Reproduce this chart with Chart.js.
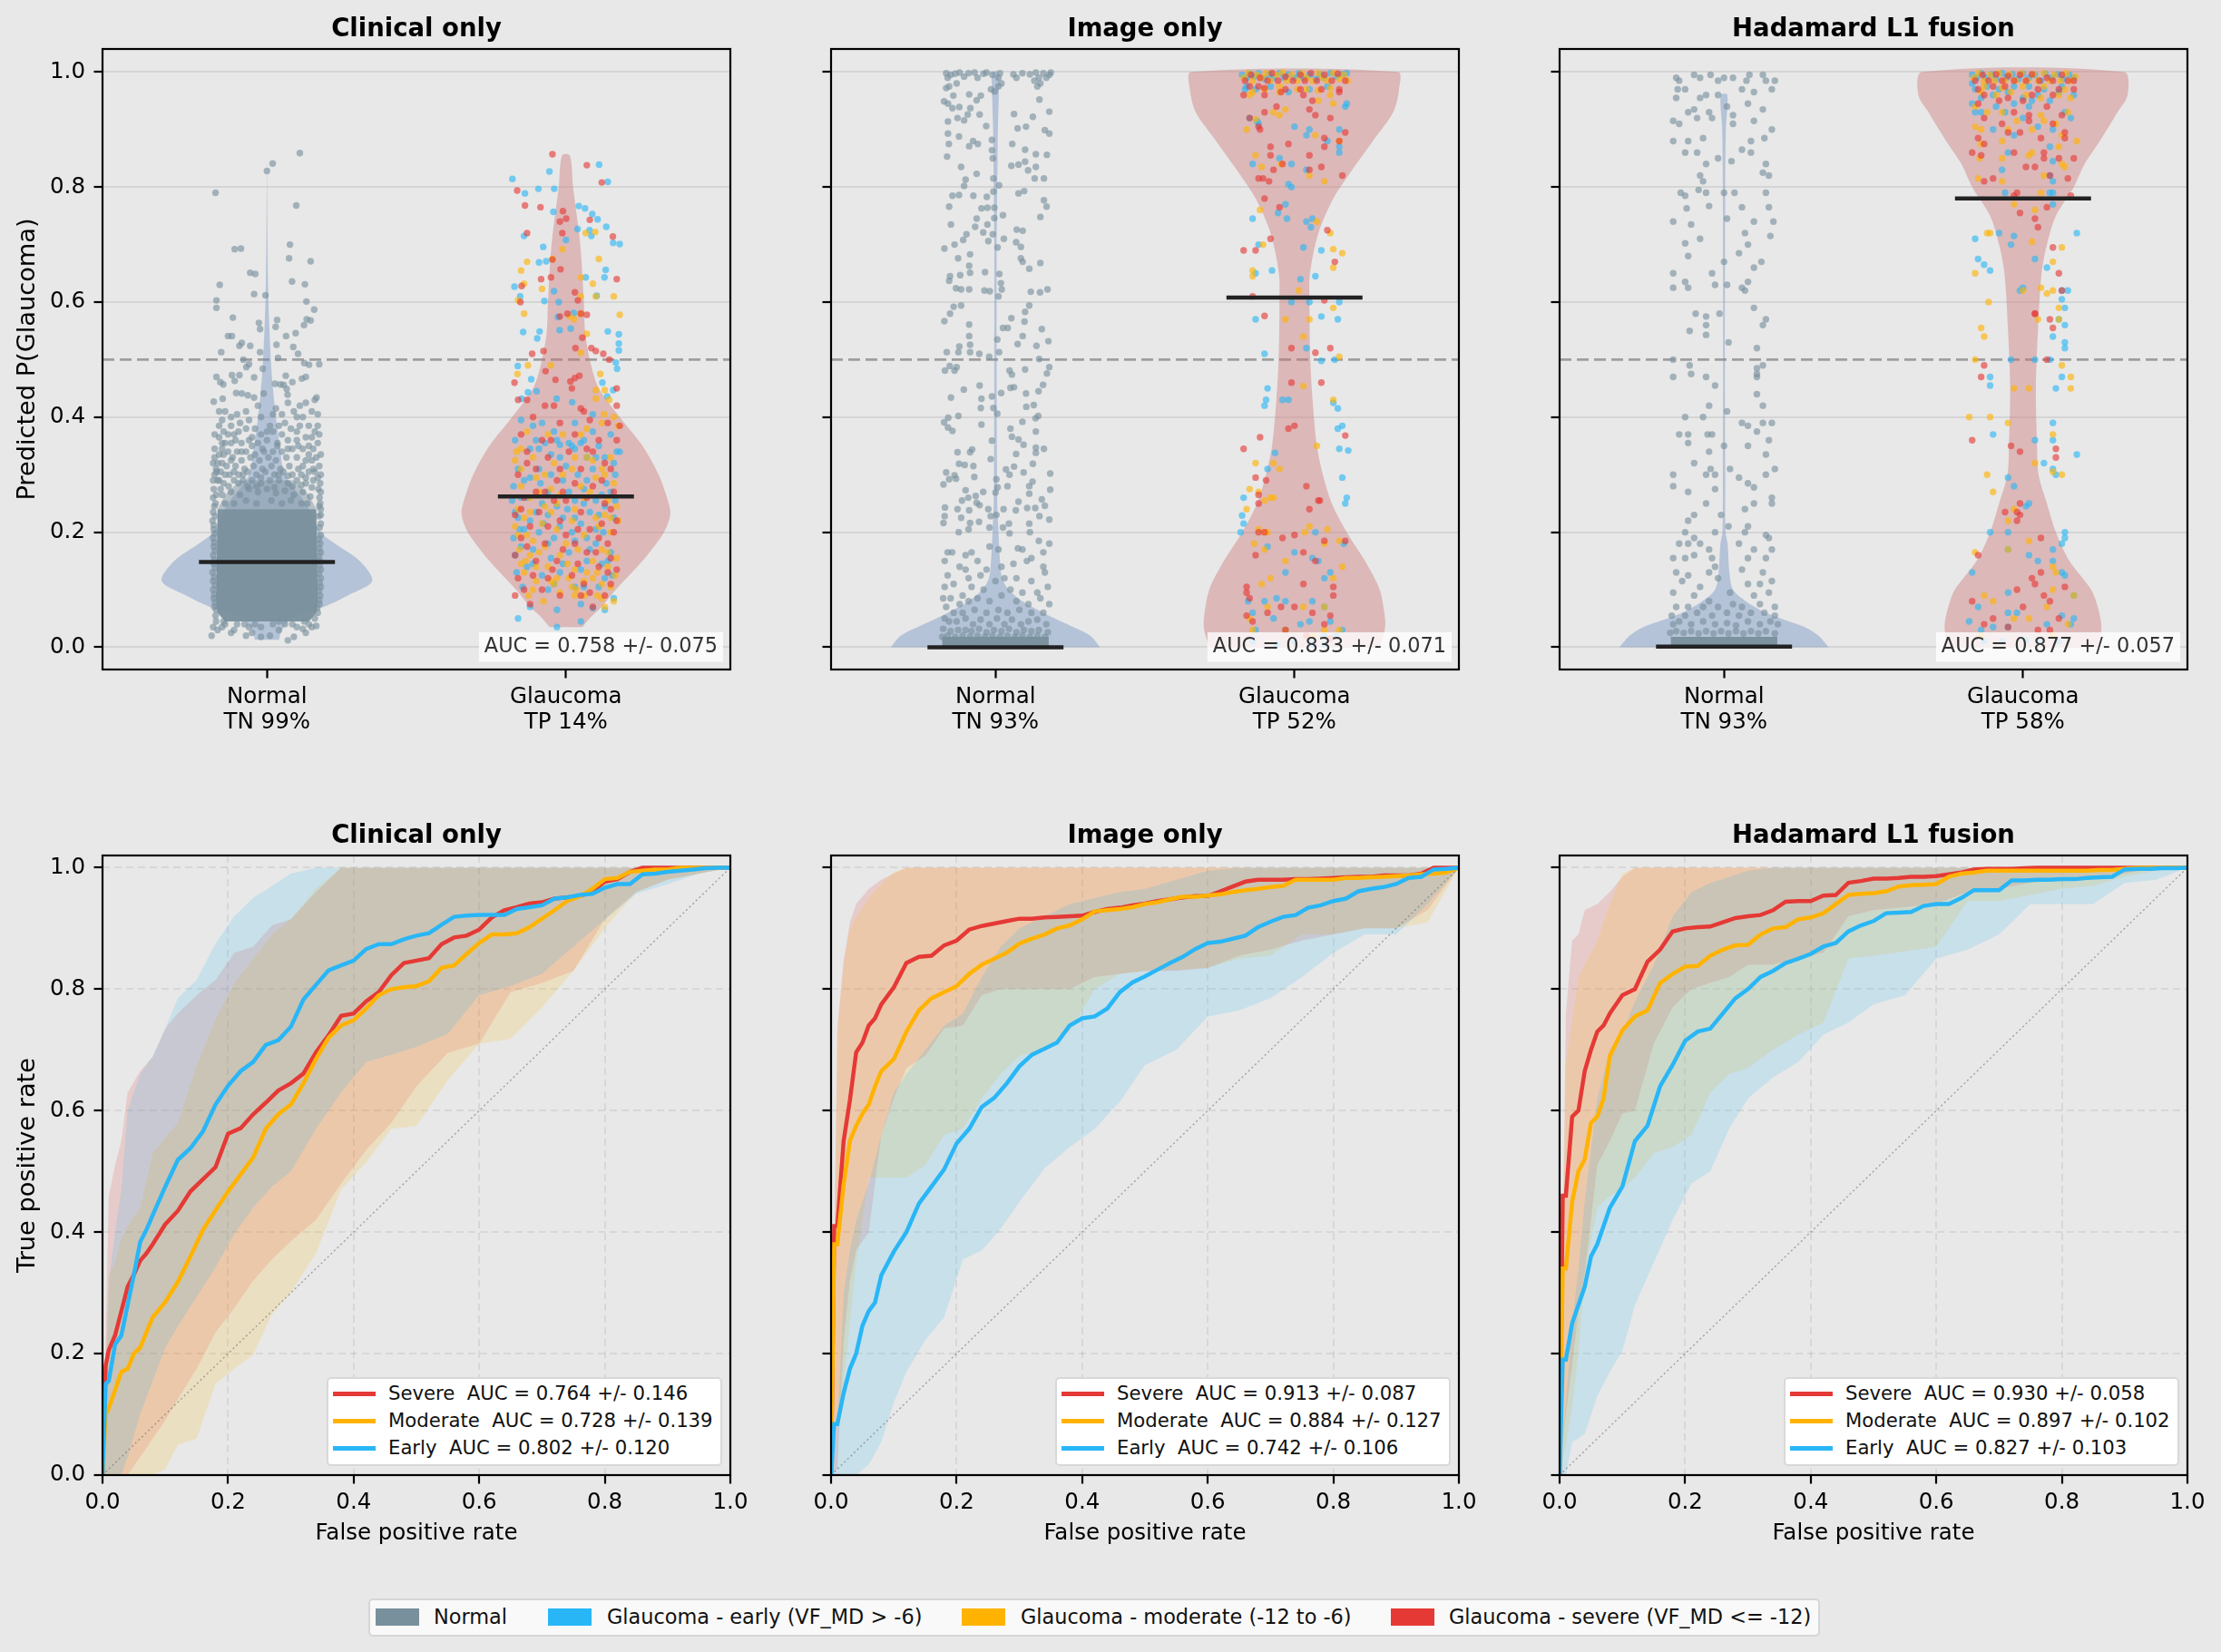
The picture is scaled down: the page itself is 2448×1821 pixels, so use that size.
<!DOCTYPE html>
<html>
<head>
<meta charset="utf-8">
<title>Glaucoma</title>
<script src="https://cdn.jsdelivr.net/npm/chart.js@4"></script>
<style>
body { margin: 0; background: #e8e8e8; width: 2448px; height: 1821px; position: relative; overflow: hidden; font-family: "DejaVu Sans", sans-serif; }
canvas { position: absolute; }
.roc-legend { position: absolute; box-sizing: border-box; width: 436px; height: 98px; background: #fff; border: 2px solid #d8d8d8; border-radius: 5px; font-size: 21.2px; color: #111; white-space: pre; }
.roc-legend div { position: absolute; left: 0; height: 30px; line-height: 30px; }
.roc-legend i { position: absolute; left: 5px; top: 13px; width: 47px; height: 4.5px; }
.roc-legend span { position: absolute; left: 66px; }
#fig-legend { position: absolute; left: 406px; top: 1762px; width: 1600px; height: 42px; box-sizing: border-box; background: #f9f9f9; border: 2px solid #d6d6d6; border-radius: 5px; font-size: 22.4px; color: #111; white-space: pre; }
#fig-legend i { position: absolute; top: 9px; width: 48px; height: 19px; }
#fig-legend span { position: absolute; top: 4px; line-height: 28px; }
</style>
</head>
<body>
<div id="fig-legend"></div>
<script>
// Categories and colours
const figLegend = ['Normal', 'Glaucoma - early (VF_MD > -6)', 'Glaucoma - moderate (-12 to -6)', 'Glaucoma - severe (VF_MD <= -12)'];
const panelTitles = ['Clinical only', 'Image only', 'Hadamard L1 fusion'];
const violinAuc = ['AUC = 0.758 +/- 0.075', 'AUC = 0.833 +/- 0.071', 'AUC = 0.877 +/- 0.057'];
const xCategories = [
    [['Normal', 'TN 99%'], ['Glaucoma', 'TP 14%']],
    [['Normal', 'TN 93%'], ['Glaucoma', 'TP 52%']],
    [['Normal', 'TN 93%'], ['Glaucoma', 'TP 58%']]
];
const rocLegend = [
    ['Severe  AUC = 0.764 +/- 0.146', 'Moderate  AUC = 0.728 +/- 0.139', 'Early  AUC = 0.802 +/- 0.120'],
    ['Severe  AUC = 0.913 +/- 0.087', 'Moderate  AUC = 0.884 +/- 0.127', 'Early  AUC = 0.742 +/- 0.106'],
    ['Severe  AUC = 0.930 +/- 0.058', 'Moderate  AUC = 0.897 +/- 0.102', 'Early  AUC = 0.827 +/- 0.103']
];
const yTicks = [0, 0.2, 0.4, 0.6, 0.8, 1];

// Medians [normal, glaucoma]
const medians = [[0.148, 0.262], [0, 0.608], [0.001, 0.78]];

// Violin outlines: heights and half widths
const clinNormalY = [.013, .03, .05, .07, .09, .115, .15, .18, .2, .25, .3, .35, .4, .45, .5, .6, .7, .86];
const clinNormalW = [.04, .05, .085, .19, .27, .352, .31, .228, .18, .13, .06, .043, .03, .02, .013, .005, .002, 0];
const clinGlaucY = [.035, .05, .07, .1, .15, .2, .23, .25, .3, .35, .4, .45, .5, .55, .6, .7, .8, .855];
const clinGlaucW = [.055, .079, .119, .167, .256, .328, .349, .344, .31, .256, .18, .11, .08, .064, .06, .048, .024, .013];
const imgNormalY = [0, .02, .04, .06, .08, .1, .12, .15, .2, .25, .3, .5, .7, .85, .9, .98, 1];
const imgNormalW = [.35, .317, .24, .16, .09, .044, .022, .015, .01, .006, .005, .004, .004, .007, .008, .012, .01];
const imgGlaucY = [0, .03, .05, .1, .15, .2, .25, .3, .35, .42, .5, .6, .65, .72, .78, .82, .88, .93, .97, 1];
const imgGlaucW = [.285, .302, .303, .285, .236, .175, .125, .095, .075, .062, .053, .05, .052, .08, .13, .18, .262, .33, .35, .346];
const hadNormalY = [0, .02, .035, .06, .08, .1, .13, .18, .2, .3, .5, .8, .9, .96];
const hadNormalW = [.35, .316, .27, .14, .073, .03, .018, .012, .005, .004, .003, .004, .006, .011];
const hadGlaucY = [0, .02, .04, .07, .1, .15, .2, .25, .3, .35, .45, .55, .65, .7, .75, .8, .84, .88, .93, .96, 1];
const hadGlaucW = [.257, .26, .262, .25, .228, .155, .11, .08, .052, .047, .043, .05, .062, .08, .11, .17, .206, .257, .316, .35, .338];

// Dense core of the normal dots, where single dots cannot be read
const clinCoreY = [.045, .06, .08, .24];
const clinCoreW = [.14, .165, .17, .165];
const clinHazeY = [.24, .265, .29];
const clinHazeW = [.165, .14, .09];
const imgCoreY = [0, .018];
const imgCoreW = [.178, .178];
const hadCoreY = [0, .018];
const hadCoreW = [.178, .178];

// Jittered dots as [offset from category, probability]
const clinNormalDots = [[-.172,.79],[0,.828],[.019,.841],[.11,.859],[.098,.768],[-.108,.692],[-.087,.693],[.077,.7],[.074,.676],[.146,.671],[-.056,.651],[-.039,.649],[.084,.636],[.127,.631],[-.158,.63],[-.043,.614],[-.005,.612],[-.169,.603],[.132,.601],[-.169,.59],[.158,.587],[-.114,.573],[.034,.569],[.133,.57],[-.027,.564],[.029,.557],[-.023,.553],[.124,.56],[.146,.568],[-.13,.541],[-.117,.541],[.064,.541],[.096,.546],[-.084,.529],[-.092,.524],[-.056,.524],[.032,.526],[.088,.522],[-.153,.513],[-.023,.513],[.104,.51],[-.079,.5],[.037,.503],[.175,.492],[-.06,.492],[-.069,.487],[-.014,.484],[.125,.494],[.141,.491],[-.169,.47],[-.156,.461],[-.146,.457],[-.117,.473],[-.092,.473],[-.108,.463],[-.043,.469],[.063,.472],[.045,.457],[.056,.456],[.085,.461],[.117,.467],[.13,.47],[.027,.458],[.066,.449],[-.103,.442],[-.084,.441],[-.064,.438],[-.043,.434],[-.011,.441],[.069,.439],[.166,.434],[-.178,.427],[-.148,.432],[.16,.43],[.13,.425],[.11,.42],[.07,.425],[.03,.415],[.02,.405],[-.03,.42],[-.07,.41],[-.1,.405],[-.16,.41],[-.14,.41],[-.15,.395],[.17,.405],[.15,.41],[.12,.4],[.09,.41],[.06,.39],[.01,.385],[-.06,.395],[-.09,.39],[-.12,.385],[-.16,.385],[-.175,.37],[-.145,.375],[-.11,.37],[-.07,.38],[-.04,.38],[-.02,.37],[.02,.375],[.05,.37],[.08,.38],[.11,.385],[.14,.385],[.17,.385],[.175,.37],[.15,.365],[.13,.365],[.1,.36],[.07,.36],[.035,.355],[0,.36],[-.03,.355],[-.06,.36],[-.085,.355],[-.12,.355],[-.15,.355],[-.175,.345],[-.16,.335],[-.13,.34],[-.1,.34],[-.07,.34],[-.04,.335],[-.01,.34],[.02,.34],[.05,.34],[.085,.345],[.12,.345],[.155,.345],[.18,.335],[-.18,.32],[-.15,.32],[-.12,.325],[.13,.325],[.15,.325],[.175,.315],[-.17,.31],[-.14,.3],[.16,.305],[.18,.3],[-.18,.29],[-.17,.265],[-.18,.235],[.18,.27],[.18,.24],[-.185,.02],[-.18,.035],[-.165,.03],[-.15,.035],[-.12,.025],[-.11,.03],[-.07,.02],[-.05,.025],[-.02,.018],[.01,.02],[.07,.012],[.09,.018],[.13,.025],[.15,.035],[.165,.037],[.12,.032],[.04,.03]];
const clinNormalMore = [[-.16,.365],[-.13,.37],[-.095,.375],[-.05,.365],[.0,.375],[.04,.385],[.1,.375],[.16,.375],[-.175,.33],[-.145,.335],[-.115,.33],[-.085,.325],[-.055,.33],[-.025,.325],[.005,.33],[.03,.325],[.065,.33],[.1,.33],[.14,.335],[.165,.33],[-.165,.32],[-.135,.315],[-.105,.315],[-.075,.31],[-.045,.315],[-.015,.31],[.015,.315],[.045,.31],[.075,.315],[.105,.31],[.12,.315],[.155,.31],[-.175,.3],[-.155,.305],[-.125,.3],[-.095,.3],[-.065,.305],[-.035,.3],[-.005,.305],[.025,.3],[.055,.305],[.085,.3],[.115,.3],[.14,.305],[.17,.295],[-.165,.29],[-.145,.285],[-.11,.29],[-.08,.29],[-.05,.29],[-.02,.285],[.01,.29],[.04,.29],[.07,.285],[.1,.29],[.13,.285],[.155,.29],[.178,.285],[-.178,.275],[-.155,.275],[-.128,.28],[.15,.278],[.172,.275],[-.18,.26],[-.172,.25],[.176,.26],[.178,.25],[-.182,.22],[-.178,.205],[.18,.23],[.18,.215],[-.18,.19],[-.178,.175],[.18,.195],[.178,.18],[-.18,.16],[-.178,.145],[.18,.165],[.178,.15],[-.182,.13],[-.18,.115],[.18,.135],[.18,.12],[-.18,.1],[-.178,.085],[.18,.105],[.178,.09],[-.176,.07],[-.172,.055],[.176,.075],[.17,.06],[-.17,.045],[-.14,.04],[-.1,.04],[-.06,.035],[-.02,.035],[.02,.04],[.06,.04],[.1,.035],[.14,.04],[.16,.05]];
const clinNormalEdge = [[-.176,.245],[-.174,.228],[-.178,.212],[-.175,.198],[-.176,.182],[-.174,.168],[-.176,.152],[-.174,.138],[-.176,.122],[-.174,.108],[-.176,.092],[-.174,.078],[-.17,.065],[.175,.245],[.174,.228],[.176,.208],[.174,.188],[.175,.172],[.174,.158],[.176,.142],[.174,.128],[.176,.112],[.174,.098],[.175,.082],[.168,.068],[-.15,.265],[-.12,.27],[-.09,.265],[-.06,.275],[-.03,.27],[0,.275],[.03,.268],[.06,.272],[.09,.265],[.12,.27],[.145,.262],[-.14,.25],[-.11,.25],[-.07,.255],[-.035,.25],[.015,.255],[.05,.25],[.08,.255],[.115,.25],[.135,.25],[-.16,.29],[-.095,.285],[-.065,.28],[-.035,.28],[.025,.278],[.085,.28],[.115,.282],[-.168,.305],[-.11,.305],[-.08,.3],[-.02,.295],[.04,.3],[.07,.298],[.13,.295],[-.15,.345],[-.085,.34],[-.05,.35],[-.015,.345],[.035,.35],[.07,.345],[.105,.35],[.14,.35],[-.14,.355],[-.105,.36],[.17,.355],[-.02,.4],[.05,.405],[.1,.4],[-.12,.4],[-.145,.045],[-.075,.04],[.085,.04],[.125,.045],[-.04,.04],[.04,.045]];
const clinEarlyDots = [[-.179,.814],[-.137,.789],[-.092,.797],[-.039,.797],[-.055,.827],[.111,.839],[.14,.809],[-.042,.757],[.043,.767],[.064,.763],[.088,.753],[.106,.744],[.135,.731],[.039,.727],[.079,.725],[-.14,.715],[0,.708],[.085,.715],[.158,.703],[.18,.701],[-.076,.696],[-.09,.669],[-.066,.671],[.133,.656],[-.172,.627],[-.153,.61],[-.04,.619],[-.072,.602],[-.024,.6],[.103,.611],[.129,.643],[.066,.643],[-.027,.574],[.026,.581],[-.143,.548],[-.088,.549],[-.021,.551],[.016,.554],[.14,.549],[.177,.544],[-.096,.537],[.177,.528],[.177,.516],[-.161,.489],[.167,.495],[.171,.484],[-.127,.443],[-.116,.466],[-.098,.445],[-.031,.432],[.021,.426],[.138,.436],[.158,.447],[.122,.46],[-.148,.432],[-.15,.395],[-.17,.36],[-.11,.385],[-.08,.39],[-.04,.375],[.03,.39],[.09,.405],[.15,.37],[.18,.34],[-.16,.31],[-.12,.345],[-.07,.355],[-.02,.352],[.02,.35],[.07,.33],[.11,.35],[.17,.34],[-.175,.28],[-.14,.29],[-.09,.31],[-.05,.3],[0,.315],[.04,.3],[.09,.31],[.135,.285],[.165,.3],[-.18,.255],[-.13,.26],[-.08,.25],[-.03,.245],[.01,.27],[.06,.25],[.1,.255],[.15,.27],[-.17,.235],[-.12,.22],[-.06,.23],[-.01,.225],[.05,.215],[.11,.23],[.16,.225],[-.175,.19],[-.14,.205],[-.09,.2],[-.04,.19],[.02,.2],[.07,.19],[.125,.2],[-.17,.16],[-.11,.17],[-.05,.155],[.01,.165],[.08,.17],[.14,.15],[-.165,.13],[-.08,.125],[-.02,.13],[.05,.135],[.11,.105],[.16,.085],[-.12,.07],[-.16,.05],[-.03,.065],[.05,.075],[.09,.068],[-.03,.035],[.05,.045],[.13,.065],[-.16,.225],[-.1,.235],[-.02,.21],[.03,.225],[.08,.235],[.13,.245],[-.15,.175],[-.06,.18],[.03,.185],[.1,.18],[.15,.165],[-.13,.14],[-.04,.11],[.07,.15],[.13,.12],[-.15,.26],[-.06,.27],[.03,.255],[.12,.265],[-.12,.295],[-.02,.33],[.05,.355],[.13,.33],[-.1,.36],[.09,.375],[-.155,.205],[-.075,.215],[.005,.24],[.06,.275],[.1,.205],[.165,.255],[-.11,.145],[-.01,.145],[.06,.105],[.12,.145],[.155,.125],[-.145,.105],[-.06,.1],[.03,.105],[-.085,.285],[-.01,.29],[.07,.29],[.16,.32],[-.05,.335],[.03,.345],[.1,.33],[-.09,.345],[-.03,.36],[.01,.355],[.06,.36]];
const clinModerateDots = [[-.13,.67],[-.15,.655],[-.045,.675],[-.012,.692],[.11,.675],[.066,.72],[.098,.722],[-.08,.623],[-.14,.632],[-.16,.603],[.1,.61],[.16,.61],[.05,.61],[.05,.643],[.09,.632],[-.14,.58],[.013,.575],[.07,.545],[.18,.578],[.027,.57],[.05,.58],[-.127,.49],[-.162,.475],[-.05,.49],[.05,.512],[.115,.475],[.1,.447],[.13,.447],[.145,.43],[.1,.432],[.128,.405],[.16,.4],[-.13,.375],[-.165,.34],[-.06,.37],[-.01,.37],[.07,.38],[.12,.39],[.175,.385],[-.17,.325],[-.11,.33],[-.04,.32],[.03,.33],[.09,.325],[.15,.33],[-.15,.28],[-.1,.295],[-.05,.275],[-.01,.3],[.05,.28],[.1,.295],[.16,.285],[-.16,.24],[-.12,.26],[-.07,.245],[-.02,.265],[.03,.24],[.08,.27],[.13,.23],[.17,.245],[-.17,.21],[-.13,.195],[-.08,.215],[-.03,.205],[.02,.22],[.06,.195],[.11,.21],[.15,.2],[.175,.22],[-.155,.17],[-.12,.16],[-.07,.175],[-.02,.16],[.04,.17],[.09,.15],[.14,.165],[.17,.155],[-.14,.13],[-.1,.14],[-.05,.115],[.01,.12],[.035,.1],[.07,.13],[.12,.11],[.165,.125],[-.125,.09],[-.075,.08],[-.04,.11],[-.02,.095],[.03,.09],[.12,.085],[.16,.08],[.13,.07],[-.15,.145],[-.135,.15],[-.06,.14],[.005,.145],[.06,.115],[.14,.14],[-.1,.115],[.02,.105],[.09,.12],[-.14,.225],[-.05,.235],[.1,.225],[.14,.255],[-.11,.185],[.0,.18],[.12,.17],[-.09,.27],[.02,.31],[.13,.3],[-.15,.31],[-.16,.195],[-.09,.165],[.03,.135],[.105,.13],[.15,.105],[-.11,.1],[-.03,.12],[.06,.09],[.105,.09],[-.12,.235],[-.03,.25],[.06,.26],[.15,.225],[-.07,.3],[.07,.33],[.12,.31],[-.15,.345],[.05,.37]];
const clinSevereDots = [[-.045,.857],[.07,.838],[.12,.808],[-.163,.794],[-.137,.768],[-.085,.765],[-.01,.758],[.001,.745],[-.02,.74],[.08,.743],[-.012,.72],[-.13,.72],[.157,.714],[-.045,.674],[-.018,.657],[-.05,.643],[.17,.64],[-.148,.628],[-.083,.64],[-.152,.6],[.03,.617],[.04,.603],[.07,.578],[-.02,.575],[.005,.58],[.05,.58],[.055,.538],[.032,.52],[-.113,.51],[-.075,.515],[.1,.515],[.125,.51],[.085,.52],[.145,.5],[-.068,.48],[.03,.468],[.045,.472],[-.035,.465],[.015,.462],[-.172,.46],[.02,.45],[.17,.45],[-.16,.43],[-.13,.43],[.06,.41],[-.07,.42],[-.04,.42],[.17,.42],[.05,.415],[-.11,.4],[-.02,.39],[.08,.395],[.14,.39],[.18,.385],[-.15,.37],[-.08,.36],[.03,.37],[.11,.36],[.17,.36],[-.13,.34],[-.06,.33],[.01,.34],[.07,.345],[.13,.32],[-.16,.3],[-.1,.31],[-.03,.29],[.05,.31],[.12,.29],[.16,.27],[-.14,.26],[-.07,.27],[0,.255],[.07,.26],[.13,.25],[-.17,.23],[-.09,.235],[-.02,.22],[.05,.235],[.11,.19],[.17,.22],[-.15,.19],[-.07,.18],[0,.195],[.08,.205],[.14,.18],[-.17,.16],[-.1,.15],[-.03,.15],[.04,.145],[.11,.14],[.17,.135],[-.16,.12],[-.08,.1],[-.02,.09],[.06,.11],[.13,.09],[-.17,.09],[-.12,.075],[.09,.07],[-.12,.21],[-.04,.255],[.04,.205],[.12,.215],[-.13,.175],[-.01,.17],[.1,.165],[.16,.2],[-.14,.1],[-.06,.12],[.02,.125],[.08,.095],[.15,.11],[-.1,.27],[.09,.28],[-.02,.31],[.15,.31],[-.05,.36],[-.15,.24],[-.06,.21],[.03,.18],[.07,.165],[.15,.155],[-.11,.125],[-.045,.135],[.05,.09],[.14,.13],[-.13,.32],[.03,.285],[.09,.34],[-.01,.27],[.15,.24]];

const imgNormalDots = [[-.165,.998],[-.16,.99],[-.15,.995],[-.135,.997],[-.12,.999],[-.105,.992],[-.09,.998],[-.07,.999],[-.06,.99],[-.04,.997],[-.03,.999],[-.01,.995],[.01,.99],[.015,.998],[.06,.996],[.07,.99],[.09,.998],[.115,.996],[.135,.999],[.145,.99],[.16,.998],[.17,.99],[.18,.995],[.185,.999],[.13,.985],[.14,.975],[.15,.98],[.02,.98],[.01,.975],[-.015,.97],[-.155,.975],[-.13,.98],[-.165,.972],[-.141,.959],[-.088,.961],[-.049,.959],[-.063,.951],[-.172,.949],[-.159,.945],[-.144,.937],[-.121,.939],[-.084,.937],[-.003,.966],[.147,.952],[.18,.931],[.062,.927],[.125,.922],[-.159,.914],[-.127,.92],[-.105,.916],[-.093,.926],[-.053,.926],[-.031,.906],[.074,.902],[.102,.905],[.165,.899],[.18,.893],[-.159,.893],[-.122,.888],[-.012,.882],[-.075,.88],[-.059,.875],[-.088,.871],[-.156,.875],[-.162,.853],[.056,.875],[.099,.865],[-.012,.864],[.135,.857],[.172,.856],[.099,.844],[-.009,.85],[.053,.837],[.077,.839],[.109,.829],[.135,.835],[-.115,.835],[-.063,.823],[-.1,.813],[-.007,.815],[.162,.815],[.131,.815],[-.105,.802],[.012,.803],[-.144,.785],[-.122,.786],[-.074,.785],[-.029,.783],[-.007,.792],[.077,.789],[.096,.793],[.162,.777],[.171,.766],[-.155,.766],[-.047,.763],[-.027,.764],[-.004,.764],[.025,.751],[-.063,.745],[-.149,.735],[-.027,.735],[-.004,.746],[.15,.748],[-.068,.731],[-.041,.721],[-.009,.718],[.071,.726],[.091,.724],[-.097,.718],[-.108,.708],[-.024,.706],[.028,.71],[.069,.704],[-.171,.693],[-.137,.7],[.007,.695],[.085,.696],[-.085,.683],[-.125,.676],[.085,.676],[.091,.67],[.15,.668],[-.088,.663],[.113,.658],[-.152,.645],[-.118,.647],[-.085,.651],[-.035,.652],[.013,.649],[-.155,.637],[.018,.633],[-.132,.624],[-.115,.622],[-.088,.622],[-.037,.62],[-.019,.619],[.021,.622],[.118,.618],[.149,.617],[.174,.622],[.01,.61],[-.14,.592],[-.115,.594],[.113,.594],[.099,.583],[-.152,.58],[.053,.572],[-.171,.567],[.097,.566],[-.088,.561],[.025,.555],[.041,.555],[.155,.553],[.091,.541],[-.088,.541],[.074,.527],[.006,.535],[.177,.532],[-.085,.526],[-.121,.523],[.137,.524],[-.163,.513],[-.124,.513],[-.085,.513],[-.054,.51],[.012,.513],[-.021,.505],[.146,.501],[-.153,.489],[-.13,.487],[-.169,.481],[-.137,.481],[.18,.487],[.047,.481],[.055,.474],[.099,.483],[.172,.476],[-.106,.448],[-.053,.455],[.05,.451],[.062,.452],[.159,.456],[.144,.445],[.019,.442],[.102,.441],[-.149,.434],[-.012,.436],[-.047,.432],[.128,.421],[.103,.418],[-.049,.416],[-.007,.416],[.006,.406],[-.124,.402],[-.158,.399],[-.172,.391],[.09,.392],[.143,.402],[-.047,.387],[.134,.398],[-.159,.382],[-.144,.376],[.05,.38],[.135,.375],[.055,.366],[.077,.361],[-.012,.359],[.094,.352],[.135,.347],[.162,.345],[-.078,.344],[-.127,.339],[-.085,.339],[.135,.338],[.069,.336],[-.016,.327],[.062,.314],[.125,.319],[-.122,.319],[-.103,.317],[-.074,.315],[.035,.309],[-.165,.304],[-.137,.299],[-.071,.296],[.047,.3],[.094,.304],[.183,.302],[-.155,.292],[-.132,.293],[.003,.292],[.124,.288],[-.174,.283],[.04,.28],[.007,.278],[.113,.28],[.183,.274],[-.1,.273],[0,.269],[.113,.267],[-.066,.263],[-.041,.27],[-.112,.255],[-.091,.26],[-.063,.251],[.077,.253],[.155,.257],[-.169,.243],[-.127,.24],[-.088,.238],[-.053,.247],[-.024,.24],[.027,.24],[.068,.238],[.106,.242],[.133,.242],[.165,.246],[-.17,.228],[-.174,.216],[-.115,.225],[-.085,.216],[-.055,.218],[-.016,.228],[.003,.23],[.045,.215],[.113,.215],[.147,.228],[.18,.222],[-.02,.208],[.025,.208],[-.123,.2],[-.09,.205],[.047,.198],[.115,.2],[.145,.185],[.18,.18],[-.16,.165],[-.145,.165],[-.1,.16],[-.08,.165],[-.02,.175],[.01,.17],[.075,.172],[.09,.17],[.12,.155],[.16,.165],[-.17,.15],[-.12,.14],[-.1,.135],[-.06,.15],[-.03,.135],[.02,.14],[.06,.145],[.105,.15],[.16,.14],[-.16,.125],[-.09,.12],[-.05,.125],[.03,.12],[.07,.12],[.12,.115],[.165,.13],[-.17,.105],[-.14,.11],[-.11,.09],[-.08,.105],[-.04,.1],[0,.115],[.05,.1],[.09,.095],[.14,.095],[.175,.105],[-.175,.085],[-.15,.085],[-.12,.075],[-.09,.08],[-.06,.085],[-.02,.08],[.02,.09],[.07,.08],[.11,.075],[.15,.085],[.18,.075],[-.165,.07],[-.14,.06],[-.11,.06],[-.07,.065],[-.03,.06],[.01,.065],[.04,.06],[.08,.065],[.12,.06],[.16,.06],[-.17,.05],[-.155,.045],[-.13,.045],[-.1,.05],[-.075,.04],[-.05,.048],[-.02,.04],[.005,.05],[.03,.04],[.055,.048],[.085,.04],[.11,.045],[.14,.048],[.17,.04],[-.175,.032],[-.15,.028],[-.125,.03],[-.1,.03],[-.08,.028],[-.055,.032],[-.03,.026],[-.005,.03],[.02,.028],[.045,.032],[.07,.026],[.095,.03],[.12,.028],[.145,.03],[.175,.026],[-.178,.018],[-.16,.02],[-.135,.018],[-.11,.02],[-.085,.018],[-.06,.02],[-.035,.018],[-.01,.02],[.015,.018],[.04,.02],[.065,.018],[.09,.02],[.115,.018],[.14,.02],[.165,.018]];
const imgEarlyDots = [[-.165,.97],[.17,.94],[.175,.945],[-.15,.92],[-.12,.91],[-.125,.915],[.0,.905],[.04,.89],[.05,.9],[.11,.88],[.15,.9],[.15,.86],[.15,.87],[-.14,.84],[-.05,.85],[-.01,.84],[.04,.83],[-.02,.805],[-.01,.8],[-.03,.77],[-.055,.755],[.06,.745],[.04,.74],[-.14,.745],[-.025,.745],[.055,.73],[-.12,.7],[.03,.695],[.09,.69],[-.075,.655],[-.13,.65],[.07,.645],[.02,.64],[-.01,.6],[.05,.6],[.09,.575],[.15,.6],[-.13,.57],[.145,.57],[-.1,.51],[.04,.52],[.09,.498],[.135,.5],[-.09,.45],[-.095,.43],[-.1,.42],[-.04,.43],[-.02,.43],[.13,.425],[.145,.415],[.145,.38],[.16,.385],[.15,.345],[.18,.342],[-.065,.338],[-.09,.31],[.16,.295],[.175,.26],[-.17,.26],[.17,.25],[-.175,.229],[-.17,.215],[-.18,.2],[-.09,.175],[.07,.2],[.165,.18],[.0,.165],[.08,.15],[.12,.13],[.06,.155],[-.03,.13],[.1,.12],[-.155,.08],[-.1,.08],[-.06,.085],[-.03,.08],[.06,.08],[.1,.07],[-.14,.06],[-.07,.05],[.02,.04],[.05,.045],[.12,.045],[.16,.03],[-.13,.03],[-.03,.03],[.1,.02],[.14,.02],[-.14,.01],[-.06,.005],[.0,.01],[.06,.005],[.1,.005]];
const imgEarlyTop = [[-.175,.995],[-.16,.99],[-.15,.997],[-.135,.992],[-.12,.998],[-.1,.988],[-.085,.996],[-.07,.99],[-.05,.998],[-.035,.99],[-.02,.996],[0,.99],[.015,.998],[.03,.99],[.05,.995],[.07,.988],[.085,.996],[.1,.99],[.12,.998],[.14,.992],[.16,.996],[.175,.998],[-.16,.975],[-.13,.97],[-.08,.975],[-.02,.965],[.05,.97],[.11,.975]];
const imgModerateDots = [[-.15,.96],[-.1,.97],[-.05,.965],[.04,.97],[.12,.96],[.13,.945],[-.07,.93],[-.05,.925],[-.03,.935],[.08,.95],[-.16,.9],[-.13,.918],[.07,.89],[.15,.88],[-.13,.855],[-.11,.835],[-.045,.84],[.05,.82],[.1,.81],[-.115,.76],[.075,.74],[.12,.72],[.13,.692],[-.105,.7],[-.14,.655],[-.14,.645],[.13,.66],[.16,.685],[.13,.59],[.015,.62],[.05,.57],[-.03,.57],[.03,.54],[.15,.505],[.03,.454],[.13,.43],[-.13,.32],[-.07,.32],[.075,.35],[-.05,.31],[-.15,.275],[-.12,.27],[-.1,.255],[-.08,.26],[-.07,.26],[-.16,.24],[-.1,.2],[-.09,.2],[-.12,.205],[.05,.21],[.11,.205],[.035,.2],[-.135,.18],[-.1,.17],[.1,.18],[.15,.185],[-.03,.15],[.13,.12],[.16,.14],[-.11,.11],[-.08,.12],[.03,.07],[-.09,.07],[-.15,.05],[.1,.07],[-.14,.03],[-.03,.03],[.15,.03],[.06,.02],[.1,.03]];
const imgModerateTop = [[-.17,.99],[-.155,.998],[-.14,.985],[-.125,.995],[-.11,.99],[-.095,.998],[-.08,.985],[-.06,.995],[-.04,.999],[-.025,.985],[-.01,.995],[.01,.985],[.025,.998],[.04,.99],[.06,.985],[.08,.998],[.095,.99],[.11,.985],[.13,.998],[.15,.988],[.165,.995],[.178,.985],[-.14,.965],[-.05,.975],[.01,.97],[.08,.968],[.12,.972]];
const imgSevereDots = [[-.17,.96],[-.12,.975],[-.1,.96],[-.03,.97],[.02,.97],[.06,.95],[.15,.97],[-.15,.92],[-.1,.93],[-.06,.94],[.05,.935],[.07,.925],[.12,.92],[.17,.895],[-.12,.905],[-.115,.9],[.1,.885],[.15,.88],[-.08,.87],[-.02,.875],[.05,.855],[.1,.87],[-.08,.855],[-.04,.84],[-.07,.83],[.05,.83],[.09,.835],[.16,.82],[-.12,.815],[-.105,.815],[-.085,.81],[-.1,.78],[-.05,.765],[-.08,.71],[.11,.725],[-.17,.69],[-.13,.69],[.135,.67],[-.14,.61],[.1,.603],[-.1,.576],[-.01,.52],[.12,.52],[.07,.512],[.09,.46],[-.01,.46],[-.02,.38],[.0,.385],[-.17,.345],[.17,.368],[-.115,.365],[-.13,.295],[-.095,.29],[-.12,.25],[-.12,.265],[.04,.28],[.085,.255],[.08,.255],[.05,.24],[-.12,.2],[-.1,.2],[-.04,.19],[.0,.195],[.1,.185],[-.13,.16],[.07,.15],[.03,.165],[.17,.185],[-.16,.105],[-.16,.095],[.03,.11],[.13,.105],[.13,.09],[-.15,.085],[.0,.07],[-.045,.07],[.06,.06],[.12,.055],[-.16,.055],[-.09,.06],[-.14,.045],[.1,.04],[-.03,.03],[.04,.02],[.12,.015]];
const imgSevereTop = [[-.165,.985],[-.145,.995],[-.115,.99],[-.09,.985],[-.075,.998],[-.055,.985],[-.03,.992],[-.005,.985],[.02,.995],[.035,.985],[.055,.998],[.075,.985],[.1,.995],[.125,.985],[.145,.997],[.17,.985],[-.15,.975],[-.1,.972],[-.045,.965],[.03,.96],[.09,.97],[.15,.965]];

const hadNormalDots = [[-.16,.99],[-.15,.985],[-.1,.995],[-.08,.99],[-.045,.995],[-.02,.985],[0,.99],[.03,.99],[.075,.985],[.085,.995],[.13,.995],[.14,.985],[.17,.985],[-.155,.97],[-.13,.97],[-.08,.955],[-.06,.96],[-.02,.96],[.06,.97],[.1,.965],[.16,.97],[-.16,.955],[-.12,.93],[-.1,.935],[-.05,.93],[.01,.94],[.03,.925],[.08,.945],[.13,.935],[-.17,.915],[-.15,.91],[-.09,.92],[-.04,.92],[.03,.91],[.1,.915],[.16,.9],[-.17,.88],[-.12,.88],[-.07,.885],[.09,.88],[.135,.885],[.06,.865],[.09,.86],[-.13,.86],[-.09,.86],[-.02,.85],[-.06,.84],[.025,.845],[.14,.84],[.15,.82],[.13,.825],[-.08,.82],[-.07,.81],[-.085,.795],[-.145,.79],[-.13,.785],[-.06,.79],[.0,.79],[.035,.79],[.14,.79],[-.125,.763],[-.05,.767],[.06,.765],[.15,.765],[-.11,.735],[.01,.745],[.1,.74],[.165,.74],[-.17,.74],[.155,.715],[.07,.72],[-.08,.71],[-.13,.702],[.08,.7],[.05,.685],[-.12,.68],[.125,.67],[.0,.67],[.1,.66],[-.17,.65],[-.13,.635],[-.03,.63],[.01,.63],[.08,.635],[-.04,.65],[.06,.625],[.07,.62],[-.12,.625],[-.17,.625],[-.095,.58],[-.06,.56],[-.06,.575],[.1,.59],[.14,.57],[.13,.56],[-.015,.58],[-.06,.543],[-.115,.55],[.015,.53],[.11,.52],[-.17,.5],[-.115,.49],[.13,.49],[.11,.485],[.11,.475],[.11,.47],[-.11,.475],[-.06,.47],[-.03,.455],[-.17,.47],[.11,.44],[.13,.42],[-.05,.42],[.01,.41],[-.07,.4],[-.13,.4],[.06,.39],[.13,.39],[.16,.39],[-.15,.37],[-.12,.37],[.08,.385],[-.055,.37],[-.04,.37],[.11,.375],[.15,.36],[-.12,.355],[.0,.35],[.08,.35],[-.05,.34],[.14,.335],[-.1,.32],[-.045,.31],[-.03,.3],[.14,.3],[.17,.31],[.02,.31],[-.06,.3],[.05,.295],[.08,.285],[-.17,.3],[-.17,.28],[-.12,.27],[-.03,.275],[.1,.278],[.16,.26],[-.06,.25],[-.01,.23],[.1,.25],[.16,.25],[.07,.24],[.015,.21],[-.1,.23],[-.12,.22],[-.03,.2],[.08,.21],[-.13,.2],[-.1,.19],[.07,.2],[.14,.195],[.15,.19],[-.15,.18],[-.12,.18],[-.08,.18],[-.05,.17],[.05,.18],[.1,.17],[.16,.17],[-.17,.155],[-.13,.155],[-.1,.16],[-.04,.155],[.08,.155],[.14,.155],[-.16,.13],[-.12,.125],[-.05,.13],[-.03,.14],[.06,.135],[.13,.13],[-.14,.115],[-.08,.105],[-.02,.12],[.08,.11],[.12,.11],[.16,.115],[-.17,.095],[-.1,.09],[-.05,.08],[.02,.095],[.1,.09],[.15,.095],[-.16,.07],[-.12,.07],[-.07,.07],[-.02,.07],[.03,.075],[.06,.07],[.12,.075],[.17,.07],[-.175,.055],[-.13,.055],[-.09,.06],[-.04,.055],[.01,.06],[.05,.055],[.09,.06],[.135,.06],[.17,.055],[-.17,.04],[-.15,.045],[-.11,.04],[-.07,.045],[-.03,.04],[.01,.042],[.04,.038],[.08,.045],[.12,.04],[.155,.045],[.18,.04],[-.18,.025],[-.16,.028],[-.135,.025],[-.11,.028],[-.085,.024],[-.06,.028],[-.035,.024],[-.01,.028],[.015,.024],[.04,.028],[.065,.024],[.09,.028],[.115,.024],[.14,.028],[.17,.024]];
const hadEarlyDots = [[-.17,.98],[-.12,.975],[-.08,.97],[-.03,.975],[.02,.975],[.07,.97],[.12,.965],[.17,.96],[-.17,.945],[-.14,.955],[-.09,.94],[-.03,.945],[.03,.95],[.09,.95],[.14,.93],[-.16,.93],[-.1,.9],[0,.92],[.05,.905],[.1,.9],[.16,.92],[-.03,.89],[-.05,.86],[.09,.87],[.1,.845],[-.07,.83],[.09,.82],[.1,.81],[-.06,.79],[.09,.79],[.1,.79],[.1,.77],[.18,.72],[-.16,.71],[-.08,.72],[-.03,.715],[-.04,.7],[-.15,.675],[.04,.675],[-.13,.665],[.08,.66],[-.11,.655],[-.01,.62],[.0,.625],[.13,.62],[.15,.62],[.13,.605],[.14,.59],[.12,.57],[.14,.56],[.1,.54],[.14,.52],[.14,.53],[.09,.5],[-.04,.5],[.04,.5],[.13,.47],[-.11,.47],[.11,.45],[-.11,.455],[.1,.39],[.04,.36],[-.1,.37],[.1,.36],[.18,.335],[.07,.32],[.1,.31],[.11,.3],[-.05,.295],[-.03,.28],[.01,.245],[.02,.25],[.14,.2],[-.11,.2],[-.05,.2],[.13,.18],[-.05,.17],[.02,.16],[.1,.17],[.14,.19],[-.17,.13],[.1,.15],[.13,.13],[.05,.15],[.14,.125],[-.05,.095],[.17,.09],[-.15,.07],[-.05,.06],[-.02,.06],[.13,.055],[.17,.05],[-.18,.045],[-.14,.03],[-.1,.035],[-.05,.035],[.08,.04],[.16,.04],[-.13,.01],[-.07,.01],[.01,.012],[.05,.01],[.12,.01]];
const hadEarlyTop = [[-.17,.995],[-.155,.99],[-.14,.998],[-.125,.99],[-.105,.996],[-.09,.988],[-.07,.998],[-.055,.99],[-.035,.996],[-.015,.988],[0,.997],[.02,.99],[.04,.995],[.06,.985],[.075,.997],[.095,.99],[.115,.996],[.135,.988],[.155,.995],[.17,.99],[-.16,.97],[-.1,.96],[-.05,.965],[.0,.955],[.05,.96],[.13,.975],[-.14,.93],[-.06,.93],[.02,.94]];
const hadModerateDots = [[-.14,.965],[-.09,.96],[-.04,.965],[.01,.96],[.06,.955],[.12,.96],[.16,.955],[-.16,.94],[-.12,.93],[-.07,.93],[-.02,.915],[.06,.925],[.11,.91],[.15,.93],[-.16,.905],[-.14,.9],[-.05,.9],[.03,.9],[.07,.915],[.13,.89],[.18,.88],[-.14,.875],[-.07,.88],[.03,.86],[.12,.87],[-.145,.85],[-.07,.85],[.02,.855],[.13,.84],[-.15,.815],[-.07,.81],[.07,.82],[.14,.835],[.06,.79],[-.03,.77],[.04,.76],[-.11,.72],[-.12,.72],[.03,.705],[.13,.695],[-.16,.65],[.1,.67],[.06,.625],[.1,.62],[-.115,.6],[.0,.62],[.08,.615],[.12,.57],[-.14,.555],[.12,.59],[-.13,.54],[.05,.57],[-.03,.45],[.13,.49],[-.16,.5],[.02,.45],[.16,.47],[.16,.45],[-.11,.4],[.1,.37],[-.05,.39],[-.18,.4],[.13,.3],[-.1,.27],[.04,.32],[.1,.305],[-.12,.3],[-.03,.24],[-.05,.22],[.02,.185],[-.16,.165],[.11,.13],[.1,.1],[-.05,.17],[.1,.14],[-.13,.09],[-.1,.08],[.08,.07],[.17,.09],[-.03,.05],[.02,.05],[.15,.04],[-.14,.02],[.1,.02]];
const hadModerateTop = [[-.165,.99],[-.148,.998],[-.13,.985],[-.11,.995],[-.095,.985],[-.08,.998],[-.06,.985],[-.045,.996],[-.025,.985],[-.005,.998],[.015,.985],[.035,.996],[.05,.985],[.07,.998],[.09,.985],[.105,.995],[.125,.985],[.145,.998],[.16,.985],[.175,.992],[-.13,.975],[-.07,.972],[.0,.975],[.07,.975],[.14,.97]];
const hadSevereDots = [[-.15,.97],[-.1,.975],[-.05,.955],[.0,.95],[.05,.97],[.1,.96],[.17,.97],[-.15,.945],[-.13,.92],[-.08,.95],[-.03,.93],[.02,.925],[.08,.94],[.13,.925],[-.07,.91],[.02,.915],[.1,.91],[.14,.895],[-.15,.885],[-.13,.875],[-.05,.895],[-.01,.895],[.06,.885],[.14,.885],[-.14,.855],[.07,.86],[.17,.85],[-.17,.86],[-.03,.86],[.04,.835],[.07,.85],[.01,.835],[.12,.85],[-.1,.815],[-.13,.81],[.09,.82],[.15,.815],[-.02,.79],[-.03,.785],[.08,.765],[.16,.785],[-.01,.755],[.04,.745],[.05,.73],[.1,.695],[.12,.65],[.13,.62],[.04,.58],[.04,.58],[.1,.555],[.08,.5],[.09,.57],[-.17,.36],[-.01,.25],[-.04,.35],[-.14,.47],[-.13,.49],[.11,.345],[.11,.33],[-.01,.34],[-.02,.235],[-.02,.22],[-.01,.23],[-.06,.235],[.06,.19],[-.15,.16],[.06,.13],[.04,.11],[.14,.105],[-.17,.08],[.03,.12],[-.02,.1],[.07,.09],[.09,.08],[.0,.07],[-.1,.05],[.09,.03],[.05,.03],[-.05,.035],[-.13,.04],[.12,.05]];
const hadSevereTop = [[-.16,.985],[-.135,.995],[-.115,.985],[-.09,.996],[-.07,.985],[-.05,.993],[-.03,.985],[-.01,.995],[.01,.985],[.03,.996],[.055,.985],[.08,.99],[.1,.985],[.13,.995],[.15,.985],[.17,.985],[-.13,.96],[-.06,.975],[.03,.96],[.12,.97]];

const normalDots = [clinNormalDots.concat(clinNormalMore, clinNormalEdge), imgNormalDots, hadNormalDots];
const glaucDots = [
    [clinEarlyDots, clinModerateDots, clinSevereDots],
    [imgEarlyDots.concat(imgEarlyTop), imgModerateDots.concat(imgModerateTop), imgSevereDots.concat(imgSevereTop)],
    [hadEarlyDots.concat(hadEarlyTop), hadModerateDots.concat(hadModerateTop), hadSevereDots.concat(hadSevereTop)]
];
const violins = [
    [clinNormalY, clinNormalW, clinGlaucY, clinGlaucW],
    [imgNormalY, imgNormalW, imgGlaucY, imgGlaucW],
    [hadNormalY, hadNormalW, hadGlaucY, hadGlaucW]
];
const cores = [[clinCoreY, clinCoreW], [imgCoreY, imgCoreW], [hadCoreY, hadCoreW]];

// ROC curves: false positive rate grid and mean true positive rate
const meanFpr = [0,.005,.01,.02,.03,.04,.05,.06,.07,.08,.1,.12,.14,.16,.18,.2,.22,.24,.26,.28,.3,.32,.34,.36,.38,.4,.42,.44,.46,.48,.5,.52,.54,.56,.58,.6,.62,.64,.66,.68,.7,.72,.74,.76,.78,.8,.82,.84,.86,.88,.9,.92,.94,.96,.98,1];
const clinSevere = [0,.18,.206,.23,.27,.31,.33,.353,.365,.38,.413,.435,.467,.487,.507,.562,.571,.594,.613,.633,.645,.661,.696,.724,.756,.76,.78,.795,.823,.843,.847,.851,.874,.885,.888,.898,.918,.93,.935,.941,.943,.949,.951,.953,.961,.977,.981,.993,1,1,1,1,1,1,1,1];
const clinModerate = [0,.1,.11,.14,.17,.175,.2,.21,.235,.26,.285,.318,.36,.404,.436,.467,.495,.523,.57,.594,.61,.645,.685,.72,.74,.749,.768,.79,.8,.803,.805,.813,.835,.839,.858,.876,.89,.89,.892,.902,.916,.93,.945,.953,.965,.981,.983,.993,.995,.997,.997,1,1,1,1,1];
const clinEarly = [0,.15,.155,.215,.23,.28,.33,.384,.404,.428,.475,.519,.538,.566,.61,.641,.665,.68,.708,.716,.738,.783,.807,.831,.839,.847,.866,.874,.874,.882,.888,.892,.906,.919,.921,.922,.922,.922,.932,.935,.938,.949,.951,.955,.957,.967,.973,.973,.989,.99,.993,.995,.997,.999,1,1];
const imgSevere = [0,.41,.41,.55,.617,.696,.712,.74,.752,.775,.803,.843,.853,.855,.872,.88,.898,.904,.908,.912,.916,.916,.918,.919,.92,.921,.927,.932,.934,.938,.941,.945,.948,.951,.953,.953,.961,.969,.977,.98,.98,.98,.981,.981,.982,.983,.984,.985,.985,.987,.987,.987,.99,1,1,1];
const imgModerate = [0,.38,.38,.478,.55,.575,.595,.61,.64,.665,.685,.73,.765,.785,.795,.805,.825,.84,.85,.86,.875,.883,.89,.9,.905,.915,.928,.93,.932,.935,.94,.943,.948,.952,.952,.954,.956,.96,.963,.965,.968,.97,.98,.98,.98,.98,.983,.983,.984,.985,.986,.987,.989,.99,.992,1];
const imgEarly = [0,.084,.084,.135,.175,.2,.246,.27,.284,.329,.368,.4,.447,.475,.503,.546,.57,.606,.621,.645,.673,.692,.702,.712,.74,.752,.755,.768,.795,.811,.821,.832,.843,.853,.866,.876,.878,.883,.888,.902,.911,.919,.922,.934,.938,.945,.949,.961,.965,.968,.973,.983,.985,.997,.998,1];
const hadSevere = [0,.46,.46,.59,.6,.665,.7,.73,.74,.76,.79,.8,.845,.865,.895,.9,.902,.903,.91,.917,.92,.922,.93,.944,.945,.945,.954,.955,.975,.978,.982,.982,.983,.985,.985,.986,.989,.992,.997,.998,.998,.998,.999,1,1,1,1,1,1,1,1,1,1,1,1,1];
const hadModerate = [0,.34,.34,.45,.5,.52,.58,.59,.62,.69,.732,.755,.765,.81,.825,.837,.838,.855,.865,.872,.873,.89,.9,.902,.915,.918,.925,.94,.955,.957,.958,.961,.969,.971,.972,.973,.985,.99,.992,.995,.995,.995,.995,.995,.995,.995,.995,.995,.996,.996,.998,1,1,1,1,1];
const hadEarly = [0,.19,.19,.25,.28,.31,.36,.38,.41,.44,.475,.55,.575,.64,.675,.715,.73,.735,.76,.785,.8,.82,.83,.843,.85,.858,.87,.876,.895,.905,.912,.925,.926,.927,.937,.94,.94,.95,.963,.963,.963,.979,.979,.98,.98,.981,.981,.983,.984,.985,.997,.998,.998,.999,.999,1];

// ROC confidence bands on a coarser grid
const bandFpr = [0,.01,.02,.03,.04,.06,.08,.1,.12,.15,.18,.21,.24,.27,.3,.34,.38,.42,.46,.5,.55,.6,.65,.7,.75,.8,.85,.9,.95,1];
const clinSevereHi = [0,.46,.51,.55,.63,.665,.688,.735,.76,.79,.815,.86,.87,.905,.915,.96,1,1,1,1,1,1,1,1,1,1,1,1,1,1];
const clinSevereLo = [0,0,0,0,0,.03,.06,.09,.125,.175,.235,.275,.32,.355,.385,.42,.48,.535,.58,.64,.695,.71,.795,.81,.83,.915,.96,.98,.99,1];
const clinModerateHi = [0,.33,.35,.39,.41,.44,.53,.555,.58,.675,.75,.81,.85,.89,.915,.965,1,1,1,1,1,1,1,1,1,1,1,1,1,1];
const clinModerateLo = [0,0,0,0,0,0,0,.01,.05,.06,.15,.175,.198,.265,.3,.365,.47,.515,.57,.575,.65,.71,.718,.77,.83,.9,.96,.98,.99,1];
const clinEarlyHi = [0,.32,.4,.47,.6,.66,.69,.735,.785,.815,.875,.92,.95,.97,.99,1,1,1,1,1,1,1,1,1,1,1,1,1,1,1];
const clinEarlyLo = [0,0,0,0,.03,.1,.155,.21,.245,.293,.342,.397,.44,.475,.5,.57,.63,.68,.692,.705,.726,.79,.805,.825,.87,.914,.957,.973,.99,1];
const imgSevereHi = [0,.736,.847,.91,.94,.965,.98,.99,1,1,1,1,1,1,1,1,1,1,1,1,1,1,1,1,1,1,1,1,1,1];
const imgSevereLo = [0,.01,.22,.32,.37,.4,.56,.62,.67,.69,.735,.74,.79,.8,.8,.8,.8,.82,.825,.83,.83,.835,.855,.865,.88,.89,.9,.9,.93,1];
const imgModerateHi = [0,.73,.84,.9,.918,.95,.973,.993,1,1,1,1,1,1,1,1,1,1,1,1,1,1,1,1,1,1,1,1,1,1];
const imgModerateLo = [0,.1,.15,.25,.35,.49,.49,.49,.49,.51,.56,.57,.62,.66,.69,.7,.73,.8,.825,.83,.832,.835,.85,.855,.89,.89,.9,.9,.91,1];
const imgEarlyHi = [0,.08,.3,.37,.42,.48,.56,.63,.66,.7,.74,.76,.82,.87,.9,.92,.94,.95,.96,.965,.98,.995,1,1,1,1,1,1,1,1];
const imgEarlyLo = [0,0,0,0,0,.017,.055,.12,.17,.222,.26,.355,.37,.405,.45,.505,.54,.57,.615,.675,.7,.755,.765,.785,.82,.86,.89,.89,.94,1];
const hadSevereHi = [0,.76,.88,.89,.93,.94,.96,.985,1,1,1,1,1,1,1,1,1,1,1,1,1,1,1,1,1,1,1,1,1,1];
const hadSevereLo = [0,.1,.18,.27,.33,.51,.55,.595,.6,.71,.77,.8,.81,.82,.84,.84,.85,.86,.92,.93,.935,.94,.96,.965,.975,.98,.985,.99,1,1];
const hadModerateHi = [0,.68,.75,.82,.84,.88,.94,.99,1,1,1,1,1,1,1,1,1,1,1,1,1,1,1,1,1,1,1,1,1,1];
const hadModerateLo = [0,.05,.11,.2,.33,.44,.46,.47,.49,.53,.54,.56,.63,.66,.67,.7,.725,.745,.85,.855,.862,.87,.945,.945,.955,.965,.97,.985,.995,1];
const hadEarlyHi = [0,.12,.25,.34,.45,.62,.7,.73,.78,.84,.92,.96,.975,.985,.995,1,1,1,1,1,1,1,1,1,1,1,1,1,1,1];
const hadEarlyLo = [0,0,.055,.06,.068,.13,.17,.205,.28,.35,.42,.48,.5,.57,.62,.655,.68,.725,.745,.775,.79,.85,.865,.89,.94,.94,.94,.975,.98,1];

const rocMeans = [[clinSevere, clinModerate, clinEarly], [imgSevere, imgModerate, imgEarly], [hadSevere, hadModerate, hadEarly]];
const rocBands = [
    [[clinSevereHi, clinSevereLo], [clinModerateHi, clinModerateLo], [clinEarlyHi, clinEarlyLo]],
    [[imgSevereHi, imgSevereLo], [imgModerateHi, imgModerateLo], [imgEarlyHi, imgEarlyLo]],
    [[hadSevereHi, hadSevereLo], [hadModerateHi, hadModerateLo], [hadEarlyHi, hadEarlyLo]]
];

const RED = '#e53935', AMBER = '#ffb300', BLUE = '#29b6f6', SLATE = '#78909c';
const rocColors = [RED, AMBER, BLUE];
const bandColors = ['rgba(229,57,53,0.16)', 'rgba(255,179,0,0.16)', 'rgba(41,182,246,0.17)'];
const dotColors = ['rgba(41,182,246,0.62)', 'rgba(255,179,0,0.62)', 'rgba(229,57,53,0.62)'];

const frameLeft = [113, 916, 1719];
const MARGIN_L = 113, FRAME_W = 692, MARGIN_R = 45;

Chart.defaults.font.family = '"DejaVu Sans", sans-serif';
Chart.defaults.color = '#000';
Chart.defaults.animation = false;

// Outline around the axes, like matplotlib's spines
const framePlugin = {
    id: 'frame',
    afterDatasetsDraw(chart) {
        const a = chart.chartArea, c = chart.ctx;
        c.save();
        c.strokeStyle = '#000';
        c.lineWidth = 2.2;
        c.strokeRect(a.left, a.top, a.right - a.left, a.bottom - a.top);
        c.restore();
    }
};

// AUC label at the lower right of the violin panels
const aucPlugin = {
    id: 'aucBox',
    afterDatasetsDraw(chart, args, opts) {
        if (!opts.text) return;
        const a = chart.chartArea, c = chart.ctx;
        const y0 = chart.scales.y.getPixelForValue(0);
        c.save();
        c.font = '22.4px "DejaVu Sans", sans-serif';
        const w = c.measureText(opts.text).width;
        c.fillStyle = 'rgba(255,255,255,0.78)';
        c.fillRect(a.right - 8 - w - 12, y0 - 16.5, w + 12, 32.5);
        c.fillStyle = '#333';
        c.textBaseline = 'middle';
        c.fillText(opts.text, a.right - 14 - w, y0);
        c.restore();
    }
};

function outline(center, ys, half) {
    const left = ys.map((y, i) => ({ x: center - half[i], y: y }));
    const right = ys.map((y, i) => ({ x: center + half[i], y: y })).reverse();
    return left.concat(right);
}

function area(points, color, tension) {
    return { data: points, showLine: true, fill: 'shape', backgroundColor: color, borderWidth: 0, borderColor: 'transparent', pointRadius: 0, tension: tension || 0 };
}

function stroke(points, color, width, dash) {
    return { data: points, showLine: true, fill: false, borderColor: color, borderWidth: width, borderDash: dash || [], pointRadius: 0 };
}

function dots(list, center, color) {
    return { data: list.map(p => ({ x: center + p[0], y: p[1] })), showLine: false, pointRadius: 3.7, pointBorderWidth: 0, backgroundColor: color };
}

function addCanvas(left, top, width, height) {
    const cv = document.createElement('canvas');
    cv.width = width;
    cv.height = height;
    cv.style.left = left + 'px';
    cv.style.top = top + 'px';
    cv.style.width = width + 'px';
    cv.style.height = height + 'px';
    document.body.appendChild(cv);
    return cv;
}

function panelOptions(p, cfg) {
    return {
        responsive: false,
        devicePixelRatio: 1,
        events: [],
        layout: { autoPadding: false, padding: { right: MARGIN_R } },
        plugins: {
            legend: { display: false },
            tooltip: { enabled: false },
            aucBox: { text: cfg.auc },
            title: {
                display: true, text: panelTitles[p], fullSize: false, color: '#000',
                font: { size: 27.5, weight: 'bold', lineHeight: 1.2 },
                padding: cfg.titlePad
            }
        },
        scales: { x: cfg.x, y: cfg.y }
    };
}

function yScale(p, min, max, label, gridDash) {
    return {
        type: 'linear', min: min, max: max,
        afterBuildTicks: s => { s.ticks = yTicks.map(v => ({ value: v })); },
        afterFit: s => { s.width = MARGIN_L; },
        ticks: { display: p === 0, padding: 9.5, font: { size: 24.5 }, color: '#000', callback: v => v.toFixed(1) },
        grid: { color: gridDash ? 'rgba(0,0,0,0.07)' : 'rgba(0,0,0,0.08)', lineWidth: 2, tickLength: 9.5, tickColor: '#000', tickWidth: 2.2 },
        border: { display: false, dash: gridDash || [] },
        title: { display: p === 0, text: label, font: { size: 27.2 }, color: '#000', padding: { top: 15, bottom: 0 } }
    };
}

// Top row: violins with jittered dots
for (let p = 0; p < 3; p++) {
    const v = violins[p], g = glaucDots[p];
    const sets = [
        stroke([{ x: -0.55, y: 0.5 }, { x: 1.55, y: 0.5 }], 'rgba(110,110,110,0.6)', 2.8, [13, 6]),
        area(outline(0, v[0], v[1]), 'rgba(104,140,192,0.4)', 0.3),
        area(outline(1, v[2], v[3]), 'rgba(202,112,112,0.4)', 0.3),
        area(outline(0, cores[p][0], cores[p][1]), 'rgba(122,145,157,0.97)')
    ];
    if (p === 0) sets.push(area(outline(0, clinHazeY, clinHazeW), 'rgba(122,145,157,0.45)'));
    sets.push(
        dots(normalDots[p], 0, 'rgba(120,144,156,0.62)'),
        dots(g[0], 1, dotColors[0]),
        dots(g[1], 1, dotColors[1]),
        dots(g[2], 1, dotColors[2]),
        stroke([{ x: -0.2275, y: medians[p][0] }, { x: 0.2275, y: medians[p][0] }], '#222', 4.5),
        stroke([{ x: 0.7725, y: medians[p][1] }, { x: 1.2275, y: medians[p][1] }], '#222', 4.5)
    );
    const cv = addCanvas(frameLeft[p] - MARGIN_L, 10, MARGIN_L + FRAME_W + MARGIN_R, 808);
    new Chart(cv, {
        type: 'scatter',
        data: { datasets: sets.reverse() },
        plugins: [framePlugin, aucPlugin],
        options: panelOptions(p, {
            auc: violinAuc[p],
            titlePad: { top: 6, bottom: 5 },
            x: {
                type: 'linear', min: -0.55, max: 1.55,
                afterBuildTicks: s => { s.ticks = [{ value: 0 }, { value: 1 }]; },
                afterFit: s => { s.height = 80; },
                ticks: { autoSkip: false, maxRotation: 0, padding: 7.5, font: { size: 24.5, lineHeight: 1.125 }, color: '#000', callback: val => xCategories[p][val] },
                grid: { drawOnChartArea: false, tickLength: 9.5, tickColor: '#000', tickWidth: 2.2 },
                border: { display: false }
            },
            y: yScale(p, -0.0387, 1.04, 'Predicted P(Glaucoma)')
        })
    });
}

// Bottom row: ROC curves with bands
for (let p = 0; p < 3; p++) {
    const sets = [];
    rocBands[p].forEach((band, i) => {
        const upper = bandFpr.map((x, k) => ({ x: x, y: band[0][k] }));
        const lower = bandFpr.map((x, k) => ({ x: x, y: band[1][k] })).reverse();
        sets.push(area(upper.concat(lower), bandColors[i]));
    });
    sets.push(stroke([{ x: 0, y: 0 }, { x: 1, y: 1 }], 'rgba(90,90,90,0.5)', 1.4, [2, 3]));
    rocMeans[p].forEach((curve, i) => {
        sets.push(stroke(meanFpr.map((x, k) => ({ x: x, y: curve[k] })), rocColors[i], 4.5));
    });
    const cv = addCanvas(frameLeft[p] - MARGIN_L, 900, MARGIN_L + FRAME_W + MARGIN_R, 805);
    new Chart(cv, {
        type: 'scatter',
        data: { datasets: sets.reverse() },
        plugins: [framePlugin],
        options: panelOptions(p, {
            titlePad: { top: 5.5, bottom: 4.5 },
            x: {
                type: 'linear', min: 0, max: 1,
                afterFit: s => { s.height = 79; },
                ticks: { stepSize: 0.2, autoSkip: false, maxRotation: 0, padding: 6, font: { size: 24.5 }, color: '#000', callback: v => v.toFixed(1) },
                grid: { color: 'rgba(0,0,0,0.07)', lineWidth: 2, tickLength: 9.5, tickColor: '#000', tickWidth: 2.2 },
                border: { display: false, dash: [8, 5] },
                title: { display: true, text: 'False positive rate', font: { size: 24.5 }, color: '#000', padding: { top: 0, bottom: 0 } }
            },
            y: yScale(p, 0, 1.02, 'True positive rate', [8, 5])
        })
    });

    // Legend inside the ROC axes
    const box = document.createElement('div');
    box.className = 'roc-legend';
    box.style.left = (frameLeft[p] + FRAME_W - 9 - 436) + 'px';
    box.style.top = '1518px';
    rocLegend[p].forEach((text, i) => {
        const row = document.createElement('div');
        row.style.top = (1 + i * 30) + 'px';
        row.style.width = '100%';
        const sw = document.createElement('i');
        sw.style.background = rocColors[i];
        const label = document.createElement('span');
        label.textContent = text;
        row.appendChild(sw);
        row.appendChild(label);
        box.appendChild(row);
    });
    document.body.appendChild(box);
}

// Figure legend at the bottom
const figBox = document.getElementById('fig-legend');
const figColors = [SLATE, BLUE, AMBER, RED];
const figPatchX = [6, 196, 652, 1125];
const figTextX = [70, 261, 717, 1189];
figLegend.forEach((text, i) => {
    const patch = document.createElement('i');
    patch.style.left = figPatchX[i] + 'px';
    patch.style.background = figColors[i];
    const label = document.createElement('span');
    label.style.left = figTextX[i] + 'px';
    label.textContent = text;
    figBox.appendChild(patch);
    figBox.appendChild(label);
});
</script>
</body>
</html>
